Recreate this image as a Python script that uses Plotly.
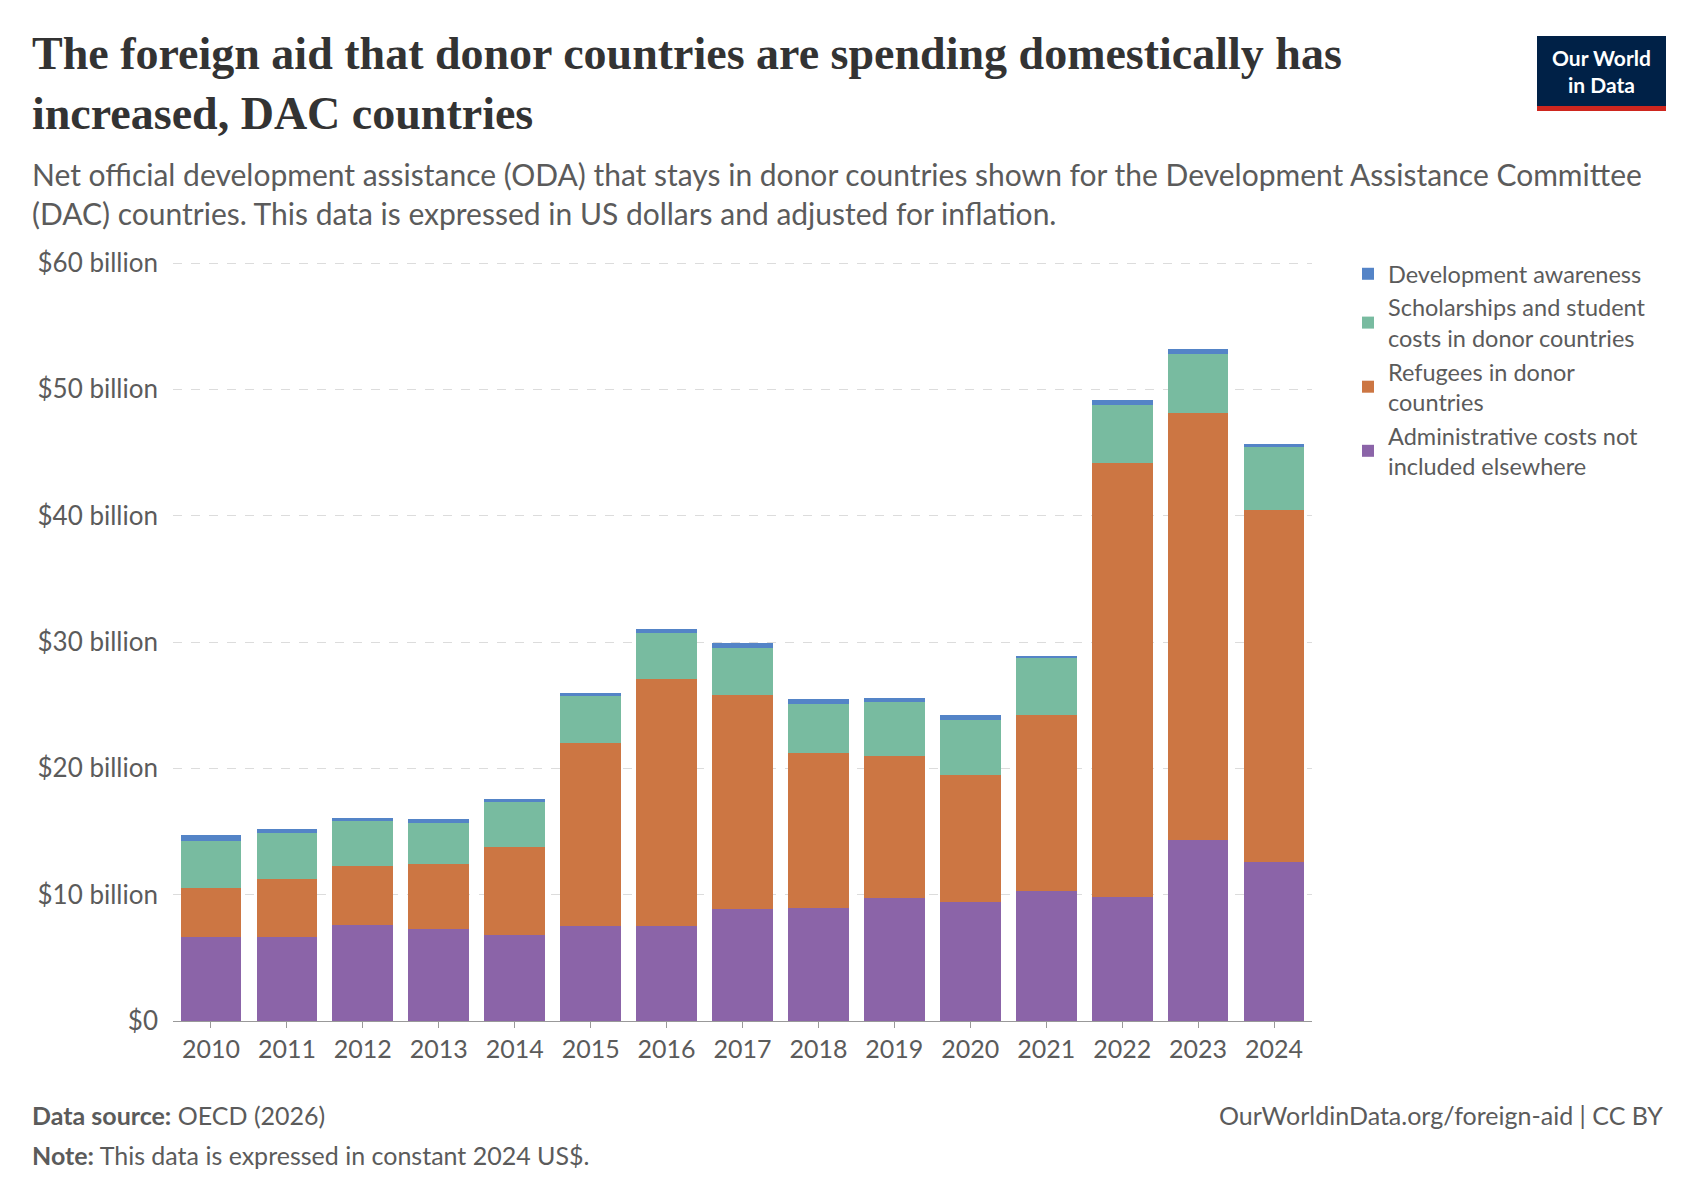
import plotly.graph_objects as go

years = [str(y) for y in range(2010, 2025)]
admin = [6.65, 6.65, 7.6, 7.25, 6.8, 7.5, 7.5, 8.9, 8.95, 9.7, 9.45, 10.3, 9.8, 14.3, 12.55]
refugees_top = [10.5, 11.25, 12.3, 12.4, 13.8, 22.0, 27.05, 25.8, 21.2, 21.0, 19.45, 24.2, 44.2, 48.1, 40.45]
schol_top = [14.25, 14.9, 15.8, 15.7, 17.3, 25.7, 30.7, 29.5, 25.1, 25.25, 23.8, 28.7, 48.8, 52.8, 45.4]
total = [14.7, 15.2, 16.1, 16.0, 17.6, 26.0, 31.05, 29.9, 25.5, 25.6, 24.2, 28.9, 49.15, 53.2, 45.7]

refugees = [r - a for r, a in zip(refugees_top, admin)]
schol = [s - r for s, r in zip(schol_top, refugees_top)]
aware = [t - s for t, s in zip(total, schol_top)]

W, H = 1700, 1200
L, R, T, B = 165, 396, 250, 187
pw, ph = W - L - R, H - T - B
def px(x): return (x - L) / pw
def py(y): return (H - B - y) / ph

fig = go.Figure()
series = [
    ("Administrative costs not<br>included elsewhere", admin, "#8B64A8"),
    ("Refugees in donor<br>countries", refugees, "#CC7643"),
    ("Scholarships and student<br>costs in donor countries", schol, "#78BBA0"),
    ("Development awareness", aware, "#5484C7"),
]
for name, vals, col in series:
    fig.add_trace(go.Bar(x=years, y=[v * 1e9 for v in vals], name=name,
                         marker=dict(color=col, line=dict(width=0)),
                         hovertemplate="%{x}: %{y:$.3s}<extra>" + name + "</extra>"))

font = "Lato, 'Noto Sans', sans-serif"
grey = "#5b5b5b"
fig.update_layout(
    width=W, height=H, barmode="stack", bargap=0.2,
    plot_bgcolor="white", paper_bgcolor="white",
    margin=dict(l=L, r=R, t=T, b=B, autoexpand=False),
    font=dict(family=font, color=grey, size=24),
    showlegend=True,
    legend=dict(x=px(1340), y=py(244), xanchor="left", yanchor="top",
                traceorder="reversed", font=dict(size=23.5, color=grey),
                itemsizing="constant", tracegroupgap=0, itemwidth=30),
    xaxis=dict(showline=True, linecolor="#999", linewidth=1, ticks="outside",
               ticklen=6, tickcolor="#999", tickfont=dict(size=25, color=grey)),
    yaxis=dict(range=[0, 60.4e9], tickvals=[i * 1e10 for i in range(7)],
               ticktext=["$0"] + [f"${i*10} billion" for i in range(1, 7)],
               gridcolor="#dcdcdc", griddash="dash", zeroline=False,
               tickfont=dict(size=26, color=grey), ticklabelstandoff=14),
)

ann = [
    dict(x=px(22), y=py(18), text="<b>The foreign aid that donor countries are spending domestically has<br>increased, DAC countries</b>",
         font=dict(family="'Liberation Serif', 'DejaVu Serif', serif", size=46, color="#333")),
    dict(x=px(22), y=py(146), text="Net official development assistance (ODA) that stays in donor countries shown for the Development Assistance Committee<br>(DAC) countries. This data is expressed in US dollars and adjusted for inflation.",
         font=dict(size=30, color=grey)),
    dict(x=px(22), y=py(1090), text="<b>Data source:</b> OECD (2026)", font=dict(size=25, color=grey)),
    dict(x=px(22), y=py(1130), text="<b>Note:</b> This data is expressed in constant 2024 US$.", font=dict(size=25, color=grey)),
]
for a in ann:
    fig.add_annotation(xref="paper", yref="paper", xanchor="left", yanchor="top",
                       showarrow=False, align="left", **a)
fig.add_annotation(xref="paper", yref="paper", x=px(1657), y=py(1090), xanchor="right", yanchor="top",
                   showarrow=False, text="OurWorldinData.org/foreign-aid | CC BY", font=dict(size=25, color=grey))

fig.add_shape(type="rect", xref="paper", yref="paper", x0=px(1529), x1=px(1658), y0=py(28), y1=py(98),
              fillcolor="#002147", line=dict(width=0))
fig.add_shape(type="rect", xref="paper", yref="paper", x0=px(1529), x1=px(1658), y0=py(98), y1=py(103),
              fillcolor="#CE261E", line=dict(width=0))
fig.add_annotation(xref="paper", yref="paper", x=px(1593), y=py(63), xanchor="center", yanchor="middle",
                   showarrow=False, text="<b>Our World<br>in Data</b>",
                   font=dict(size=21, color="white"))

fig.write_html("out.html")
